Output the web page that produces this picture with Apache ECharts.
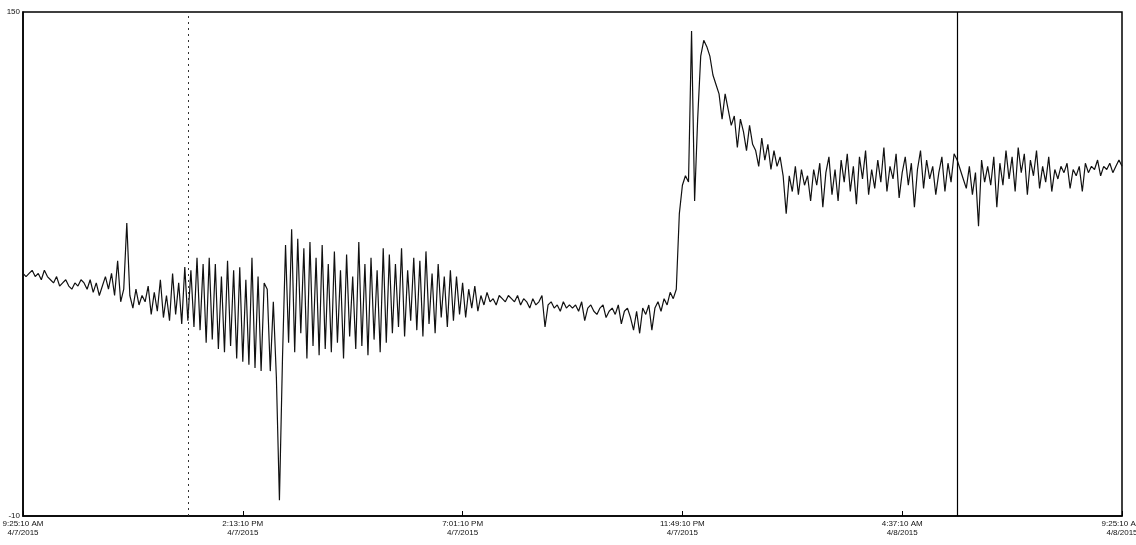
<!DOCTYPE html>
<html>
<head>
    <meta http-equiv="Content-Type" content="text/html; charset=utf-8">
    <script type="text/javascript" src="https://cdn.jsdelivr.net/npm/echarts@6/dist/echarts.min.js"></script>
    <style>
        html, body { margin: 0; padding: 0; background: #fff; }
        #chart { width: 1136px; height: 545px; }
    </style>
</head>
<body>
<div id="chart"></div>
<script>
// minutes after 9:25:10 AM 4/7/2015, one reading every 4 minutes
const stepMinutes = 4;
const tickLabels = [
    '9:25:10 AM\n4/7/2015',
    '2:13:10 PM\n4/7/2015',
    '7:01:10 PM\n4/7/2015',
    '11:49:10 PM\n4/7/2015',
    '4:37:10 AM\n4/8/2015',
    '9:25:10 AM\n4/8/2015'
];
// cursor lines (minutes): dotted one and solid one
const dottedCursor = 216;
const solidCursor = 1224;

const readings = [
    67,66,67,68,66,67,65,68,66,65,64,66,63,64,65,63,62,64,63,65,
    64,62,65,61,64,60,63,66,62,67,60,71,58,62,83,60,56,62,57,60,
    58,63,54,61,55,65,53,60,52,67,54,64,51,69,52,68,50,72,49,70,
    45,72,46,70,43,66,42,71,44,68,40,69,39,65,38,72,37,66,36,64,
    62,36,58,34,-5,40,76,45,81,42,78,48,75,40,77,44,72,41,76,43,
    70,42,74,45,68,40,73,47,66,43,77,44,70,41,72,46,68,42,75,45,
    73,48,70,50,75,47,68,52,72,49,71,47,74,51,67,48,70,53,66,50,
    68,52,66,54,64,53,62,56,63,55,60,57,61,58,59,57,60,59,58,60,
    59,58,60,57,59,58,56,59,57,58,60,50,57,58,56,57,55,58,56,57,
    56,57,55,58,52,56,57,55,54,56,57,53,55,56,54,57,51,55,56,53,
    49,55,48,56,54,57,49,56,58,55,59,57,61,59,62,86,95,98,96,144,
    90,116,136,141,139,136,130,127,124,116,124,119,114,117,107,116,112,106,114,108,
    106,101,110,103,108,100,106,101,104,98,86,98,93,101,92,100,95,98,90,100,
    95,102,88,99,104,92,100,90,103,96,105,93,101,89,104,97,106,92,100,94,
    103,96,107,93,101,97,105,91,99,104,95,102,88,100,106,94,103,97,101,92,
    99,104,93,102,96,105,103,100,97,94,101,92,99,82,103,96,101,95,104,88,
    102,95,106,97,104,93,107,99,105,92,103,98,106,94,101,96,104,93,100,97,
    101,99,102,94,100,98,101,93,102,99,101,100,103,98,101,100,102,99,101,103,101
];

const points = readings.map((v, i) => [i * stepMinutes, v]);

let chart = echarts.init(document.getElementById('chart'));
const option = {
    animation: false,
    grid: {
        left: 23, right: 14, top: 12, bottom: 29,
        containLabel: false,
        outerBoundsMode: 'none',
        show: true,
        borderColor: '#000',
        borderWidth: 1.5
    },
    xAxis: {
        type: 'value',
        min: 0,
        max: 1440,
        interval: 288,
        splitLine: { show: false },
        axisLine: { onZero: false, lineStyle: { color: '#000', width: 1.5 } },
        axisTick: { inside: true, length: 5, lineStyle: { color: '#000' } },
        axisLabel: {
            color: '#111',
            fontFamily: 'Liberation Sans',
            fontSize: 8,
            lineHeight: 9,
            margin: 3,
            showMaxLabel: true,
            formatter: function (v) {
                return tickLabels[Math.round(v / 288)] || '';
            }
        }
    },
    yAxis: {
        type: 'value',
        min: -10,
        max: 150,
        interval: 10,
        splitLine: { show: false },
        axisLine: { show: true, onZero: false, lineStyle: { color: '#000', width: 1.5 } },
        axisTick: { show: false },
        axisLabel: {
            color: '#111',
            fontFamily: 'Liberation Sans',
            fontSize: 8,
            margin: 3,
            formatter: function (v) {
                return (v === -10 || v === 150) ? String(v) : '';
            }
        }
    },
    series: [
        {
            type: 'line',
            data: points,
            showSymbol: false,
            lineStyle: { color: '#111', width: 1.2 },
            markLine: {
                silent: true,
                symbol: 'none',
                label: { show: false },
                data: [
                    { xAxis: dottedCursor, lineStyle: { type: [2, 4], color: '#333', width: 1 } },
                    { xAxis: solidCursor, lineStyle: { type: 'solid', color: '#000', width: 1.2 } }
                ]
            }
        }
    ]
};
chart.setOption(option);
</script>
</body>
</html>
